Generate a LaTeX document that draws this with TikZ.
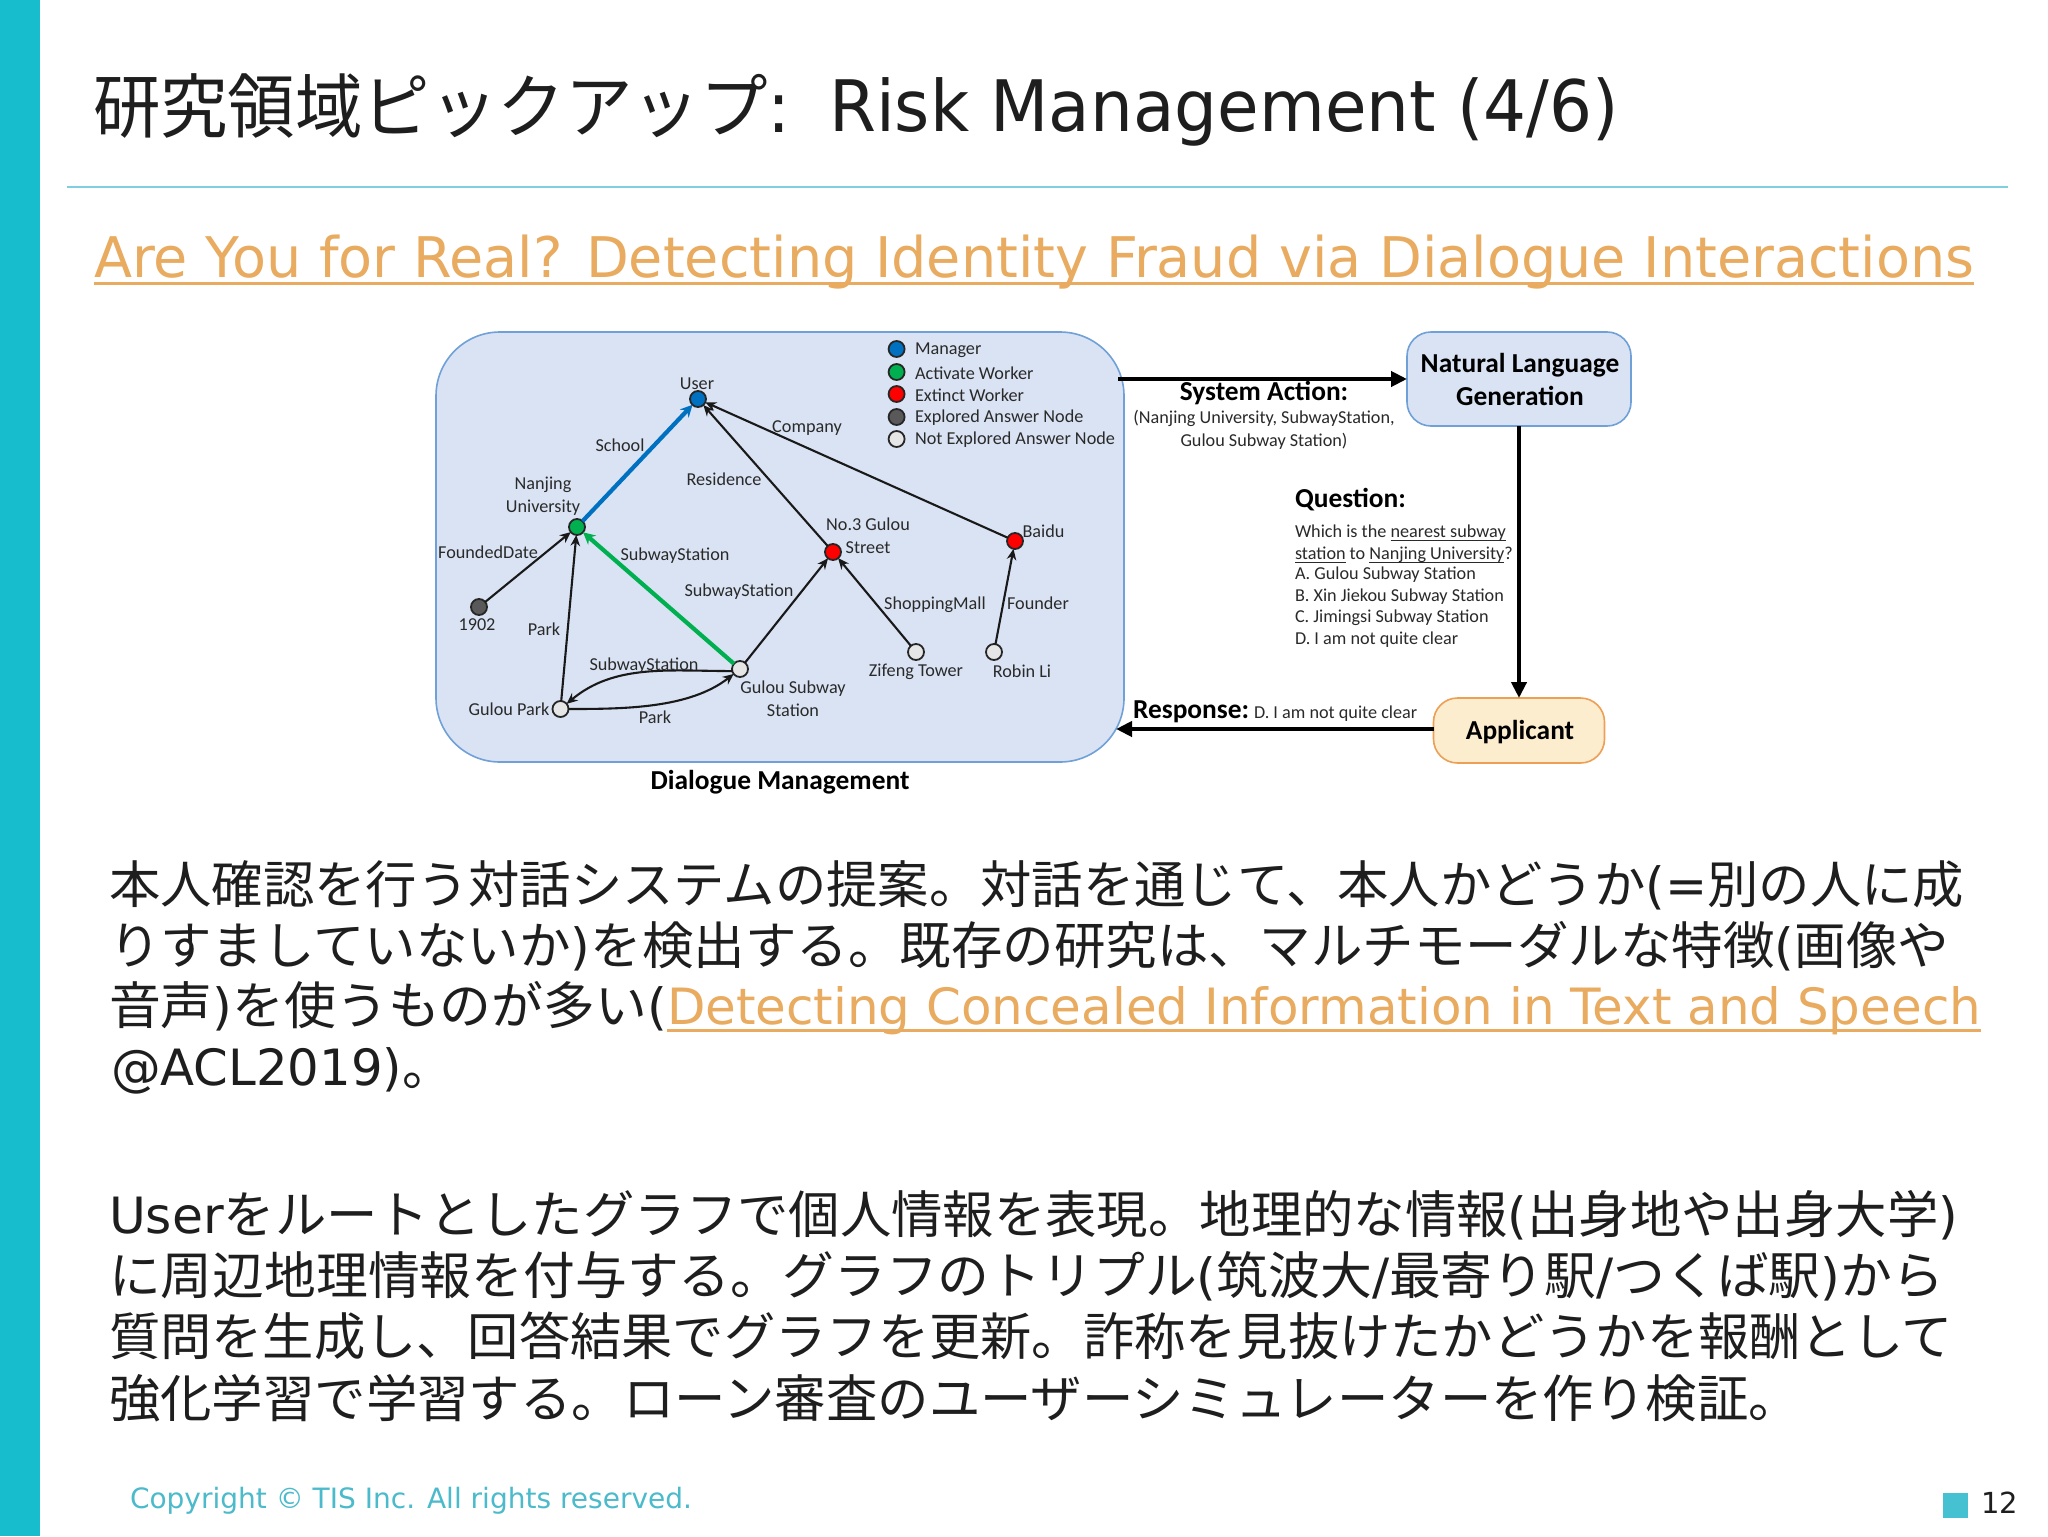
\documentclass[tikz,border=0pt]{standalone}
\usepackage{fontspec}
\usepackage{graphicx}
\setmainfont{DejaVu Sans}
\newfontfamily\cjk{Noto Sans CJK JP}
\newfontfamily\crl{Carlito}
\usetikzlibrary{arrows.meta}
\definecolor{bar}{HTML}{17BCCD}
\definecolor{rulec}{HTML}{7FCFE0}
\definecolor{linkc}{HTML}{E8AB5F}
\definecolor{copyc}{HTML}{4BBACB}
\definecolor{squarec}{HTML}{45C1D2}
\definecolor{ink}{HTML}{1E1E1E}
\definecolor{boxfill}{HTML}{DAE3F3}
\definecolor{boxline}{HTML}{6FA0D8}
\definecolor{appfill}{HTML}{FDEDCF}
\definecolor{appline}{HTML}{ED9F55}
\definecolor{mgr}{HTML}{0070C0}
\definecolor{act}{HTML}{00B050}
\definecolor{ext}{HTML}{FF0000}
\definecolor{expl}{HTML}{595959}
\definecolor{notexpl}{HTML}{E7E6E6}
\definecolor{diag}{HTML}{2A2A2A}
\newcommand\fitw[2]{\resizebox{\dimexpr#1pt*1/2\relax}{\height}{#2}}
\def\jsize{25.5}
\newcommand\J[1]{{\cjk\fontsize{\jsize}{\jsize}\selectfont #1}}
\newcommand\linked[1]{\setbox0=\hbox{#1}\rlap{\raisebox{-4pt}{\rule{\wd0}{1.5pt}}}\box0\relax}
\newcommand\ulq[1]{\setbox0=\hbox{#1}\rlap{\raisebox{-1.6pt}{\rule{\wd0}{0.5pt}}}\box0\relax}
\tikzset{
  x=0.5pt,y=-0.5pt,
  every node/.style={inner sep=0pt,outer sep=0pt},
  line/.style={anchor=base west,text=ink,font=\fontsize{25}{28}\selectfont},
  dtext/.style={text=diag,align=center,yshift=-0.4pt,font=\crl\fontsize{9.1}{10}\selectfont},
  bigt/.style={text=black,align=center,yshift=-0.5pt,font=\crl\bfseries\fontsize{13.7}{15}\selectfont},
  vert/.style={circle,draw=black!85,line width=0.9pt,minimum size=8pt},
  edge/.style={draw=black!90,line width=1.05pt,-{Stealth[length=5.5pt,width=4.8pt]}},
  heavy/.style={line width=2.1pt,-{Stealth[length=6pt,width=6pt]}},
  flow/.style={draw=black,line width=2.3pt,-{Triangle[length=8pt,width=7.5pt]}},
  panel/.style={rounded corners,draw=boxline,fill=boxfill,line width=0.8pt}
}
\begin{document}
\begin{tikzpicture}
\useasboundingbox (0,0) rectangle (2048,1536);
\fill[white] (0,0) rectangle (2048,1536);
\fill[bar] (0,0) rectangle (40,1536);
\draw[rulec,line width=0.7pt] (67,187) -- (2008,187);
% title
\def\jsize{35}
\node[line,font=\fontsize{35.5}{40}\selectfont] (title) at (93,132) {\fitw{698}{\J{研究領域ピックアップ}:}\hspace{19pt}\fitw{790}{Risk Management (4/6)}};
\def\jsize{25.5}
\node[line,text=linkc,font=\fontsize{28}{34}\selectfont] (sub) at (94,277) {\fitw{1880}{\linked{Are You for Real? Detecting Identity Fraud via Dialogue Interactions}}};
% body
\node[line] (b1) at (109,903) {\fitw{1855}{\J{本人確認を行う対話システムの提案。対話を通じて、本人かどうか}(=\J{別の人に成}}};
\node[line] (b2) at (109,964) {\fitw{1840}{\J{りすましていないか})\J{を検出する。既存の研究は、マルチモーダルな特徴}(\J{画像や}}};
\node[line] (b3) at (109,1024) {\fitw{558}{\J{音声})\J{を使うものが多い}(}\fitw{1314}{\textcolor{linkc}{\linked{Detecting Concealed Information in Text and Speech}}}};
\node[line] (b4) at (111,1085) {\fitw{342}{@ACL2019)\J{。}}};
\node[line] (c1) at (109,1233) {\fitw{1849}{User\J{をルートとしたグラフで個人情報を表現。地理的な情報}(\J{出身地や出身大学})}};
\node[line] (c2) at (109,1294) {\fitw{1835}{\J{に周辺地理情報を付与する。グラフのトリプル}(\J{筑波大}/\J{最寄り駅}/\J{つくば駅})\J{から}}};
\node[line] (c3) at (109,1355) {\fitw{1844}{\J{質問を生成し、回答結果でグラフを更新。詐称を見抜けたかどうかを報酬として}}};
\node[line] (c4) at (109,1417) {\fitw{1691}{\J{強化学習で学習する。ローン審査のユーザーシミュレーターを作り検証。}}};
% footer
\node[line,text=copyc,font=\fontsize{14}{17}\selectfont] (copy) at (130,1508) {\fitw{562}{Copyright © TIS Inc. All rights reserved.}};
\fill[squarec] (1943,1493) rectangle (1968,1518);
\node[line,font=\fontsize{14.5}{17}\selectfont] (pg) at (1981,1513) {12};
% panels
\draw[panel,rounded corners=32pt] (436,332) rectangle (1124,762);
\node[panel,rounded corners=12pt,minimum width=112pt,minimum height=47pt] (nlg) at (1519,379) {};
\node[bigt] (nlgt) at (1520,378) {Natural Language\\[1.5pt]Generation};
\node[draw=appline,fill=appfill,line width=0.8pt,rounded corners=12pt,minimum width=85.5pt,minimum height=32.5pt] (app) at (1519,730.5) {};
\node[bigt] (appt) at (1520,731) {Applicant};
\coordinate (dmout) at (1118,379);
\coordinate (dmin) at (1116,729);
\draw[flow] (dmout) -- (nlg.west |- dmout);
\draw[flow] (nlg.south) -- (app.north);
\draw[flow] (app.west |- dmin) -- (dmin);
% vertices
\node[vert,fill=mgr] (user) at (698,399) {};
\node[vert,fill=act] (nanjing) at (577,527) {};
\node[vert,fill=expl] (y1902) at (479,607) {};
\node[vert,fill=notexpl] (park) at (560.5,709) {};
\node[vert,fill=notexpl] (subway) at (740,669) {};
\node[vert,fill=ext] (gulou) at (833,552) {};
\node[vert,fill=ext] (baidu) at (1015,541) {};
\node[vert,fill=notexpl] (zifeng) at (916,652) {};
\node[vert,fill=notexpl] (robin) at (994,652) {};
% edges
\draw[heavy,draw=mgr] (nanjing) -- (user);
\draw[heavy,draw=act] (subway) -- (nanjing);
\draw[edge] (gulou) -- (user);
\draw[edge] (baidu) -- (user);
\draw[edge] (y1902) -- (nanjing);
\draw[edge] (park) -- (nanjing);
\draw[edge] (subway) -- (gulou);
\draw[edge] (zifeng) -- (gulou);
\draw[edge] (robin) -- (baidu);
\draw[edge] (subway.195) to[out=180,in=40,looseness=0.95] (park);
\draw[edge] (park) to[out=0,in=218,looseness=0.85] (subway);
% legend
\foreach \n/\c/\yy/\t in {a/mgr/349/Manager,b/act/372/Activate Worker,c/ext/394/Extinct Worker,d/expl/417/Explored Answer Node,e/notexpl/439/Not Explored Answer Node}{
  \node[vert,fill=\c] (leg\n) at (896.6,\yy) {};
  \node[dtext,anchor=west] (legt\n) at (915,\yy) {\t};
}
% labels
\node[dtext] (l1) at (697,383) {User};
\node[dtext] (l2) at (620,444) {School};
\node[dtext] (l3) at (807,427) {Company};
\node[dtext] (l4) at (724,478) {Residence};
\node[dtext] (l5) at (543,495) {Nanjing\\[1.5pt]University};
\node[dtext] (l6) at (488,551) {FoundedDate};
\node[dtext] (l7) at (675,555) {SubwayStation};
\node[dtext] (l8) at (868,535) {No.3 Gulou\\[1.5pt]Street};
\node[dtext] (l9) at (1043.5,530) {Baidu};
\node[dtext] (l10) at (739,591) {SubwayStation};
\node[dtext] (l11) at (935,604) {ShoppingMall};
\node[dtext] (l12) at (1038,602) {Founder};
\node[dtext] (l13) at (477,624) {1902};
\node[dtext] (l14) at (544,628) {Park};
\node[dtext] (l15) at (644,665) {SubwayStation};
\node[dtext] (l16) at (916,671) {Zifeng Tower};
\node[dtext] (l17) at (1022,670) {Robin Li};
\node[dtext] (l18) at (793,698) {Gulou Subway\\[1.5pt]Station};
\node[dtext] (l19) at (509,708) {Gulou Park};
\node[dtext] (l20) at (655,716) {Park};
\node[bigt] (l21) at (780,781) {Dialogue Management};
\node[bigt] (l22) at (1264,392) {System Action:};
\node[dtext] (l23) at (1264,429) {(Nanjing University, SubwayStation,\\[1.5pt]Gulou Subway Station)};
\node[bigt,anchor=west] (l24) at (1295,499) {Question:};
\node[dtext,anchor=west] (q1) at (1295,532) {Which is the \ulq{nearest subway}};
\node[dtext,anchor=west] (q2) at (1295,554) {\ulq{station} to \ulq{Nanjing University}?};
\node[dtext,anchor=west] (q3) at (1295,574) {A. Gulou Subway Station};
\node[dtext,anchor=west] (q4) at (1295,596) {B. Xin Jiekou Subway Station};
\node[dtext,anchor=west] (q5) at (1295,617) {C. Jimingsi Subway Station};
\node[dtext,anchor=west] (q6) at (1295,639) {D. I am not quite clear};
\node[bigt,anchor=west] (l25) at (1133,711) {Response:};
\node[dtext,anchor=west] (l26) at (1254,713) {D. I am not quite clear};
\end{tikzpicture}
\end{document}
